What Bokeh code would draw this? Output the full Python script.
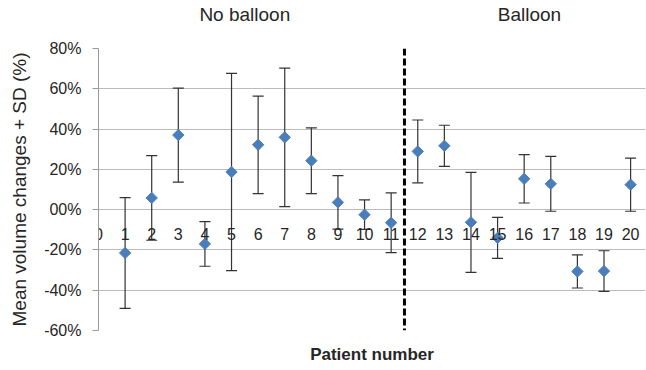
from bokeh.plotting import figure
from bokeh.models import (ColumnDataSource, Whisker, TeeHead, Span,
                          FixedTicker, Range1d, LinearAxis)
from bokeh.embed import file_html
from bokeh.resources import INLINE

# ---- data ----
patients = list(range(1, 21))
mean_change = [-21.5, 5.8, 37.0, -17.0, 18.7, 32.2, 35.9, 24.3, 3.6, -2.5,
               -6.5, 28.9, 31.7, -6.3, -14.0, 15.3, 12.8, -30.7, -30.5, 12.4]
sd_change = [27.5, 21.0, 23.3, 11.1, 49.0, 24.2, 34.4, 16.3, 13.3, 7.3,
             14.8, 15.6, 10.2, 24.8, 10.2, 12.0, 13.6, 8.2, 10.1, 13.2]
x_tick_values = list(range(0, 21))
x_tick_labels = [str(v) for v in x_tick_values]
y_tick_values = [-60, -40, -20, 0, 20, 40, 60, 80]
y_tick_labels = ["-60%", "-40%", "-20%", "00%", "20%", "40%", "60%", "80%"]
group_labels = ["No balloon", "Balloon"]
group_centers = [5.5, 16.2]
split_at = 11.5

FONT = "Liberation Sans"
TXT = "#262626"

p = figure(width=646, height=370, output_backend="svg", toolbar_location=None,
           x_range=Range1d(0, 20.56), y_range=Range1d(-60, 80),
           min_border_left=98, min_border_right=1, min_border_top=48,
           min_border_bottom=40, x_axis_location=None)
p.outline_line_color = None
p.background_fill_color = "white"

# grid
p.xgrid.visible = False
p.ygrid.grid_line_color = "#bcbcbc"
p.ygrid.grid_line_width = 1

# y axis
p.yaxis.ticker = FixedTicker(ticks=y_tick_values)
p.yaxis.major_label_overrides = {v: l for v, l in zip(y_tick_values, y_tick_labels)}
p.yaxis.axis_line_color = "#9a9a9a"
p.yaxis.major_tick_line_color = "#9a9a9a"
p.yaxis.major_tick_out = 6
p.yaxis.major_tick_in = 0
p.yaxis.minor_tick_line_color = None
p.yaxis.major_label_standoff = 11
p.yaxis.major_label_text_font = FONT
p.yaxis.major_label_text_font_size = "16px"
p.yaxis.major_label_text_color = TXT
p.yaxis.axis_label = "Mean volume changes + SD (%)"
p.yaxis.axis_label_text_font = FONT
p.yaxis.axis_label_text_font_size = "19px"
p.yaxis.axis_label_text_font_style = "normal"
p.yaxis.axis_label_text_color = TXT
p.yaxis.axis_label_standoff = 11

# x axis crossing at zero (category numbers)
x_zero_axis = LinearAxis(ticker=FixedTicker(ticks=x_tick_values),
                         major_label_overrides={v: l for v, l in zip(x_tick_values, x_tick_labels)},
                         fixed_location=0,
                         axis_line_color=None, major_tick_line_color=None,
                         minor_tick_line_color=None, major_label_standoff=12,
                         major_label_text_font=FONT,
                         major_label_text_font_size="16px",
                         major_label_text_color=TXT)
p.add_layout(x_zero_axis, "below")

# x axis title at the bottom
x_title_axis = LinearAxis(ticker=FixedTicker(ticks=[]), axis_line_color=None,
                          major_tick_line_color=None, minor_tick_line_color=None,
                          axis_label="Patient number", axis_label_text_font=FONT,
                          axis_label_text_font_size="17px",
                          axis_label_text_font_style="bold",
                          axis_label_text_color=TXT, axis_label_standoff=14)
p.add_layout(x_title_axis, "below")

# group titles as a top axis
top_axis = LinearAxis(ticker=FixedTicker(ticks=group_centers),
                      major_label_overrides={c: t for c, t in zip(group_centers, group_labels)},
                      axis_line_color=None, major_tick_line_color=None,
                      minor_tick_line_color=None, major_label_standoff=18,
                      major_label_text_font=FONT,
                      major_label_text_font_size="19px",
                      major_label_text_color=TXT)
p.add_layout(top_axis, "above")

# error bars
lower = [m - s for m, s in zip(mean_change, sd_change)]
upper = [m + s for m, s in zip(mean_change, sd_change)]
src = ColumnDataSource(dict(x=patients, y=mean_change, lower=lower, upper=upper))
w = Whisker(source=src, base="x", lower="lower", upper="upper",
            line_color="#333333", line_width=1.2,
            upper_head=TeeHead(size=11, line_color="#333333", line_width=1.2),
            lower_head=TeeHead(size=11, line_color="#333333", line_width=1.2))
p.add_layout(w)

# markers
p.scatter(x="x", y="y", source=src, marker="square", size=8, angle=0.785398,
          fill_color="#4A7EBB", line_color="#4A7EBB")

# split line
p.add_layout(Span(location=split_at, dimension="height", line_color="black",
                  line_width=3, line_dash="7 3"))

open("out.html", "w").write(file_html(p, INLINE))
